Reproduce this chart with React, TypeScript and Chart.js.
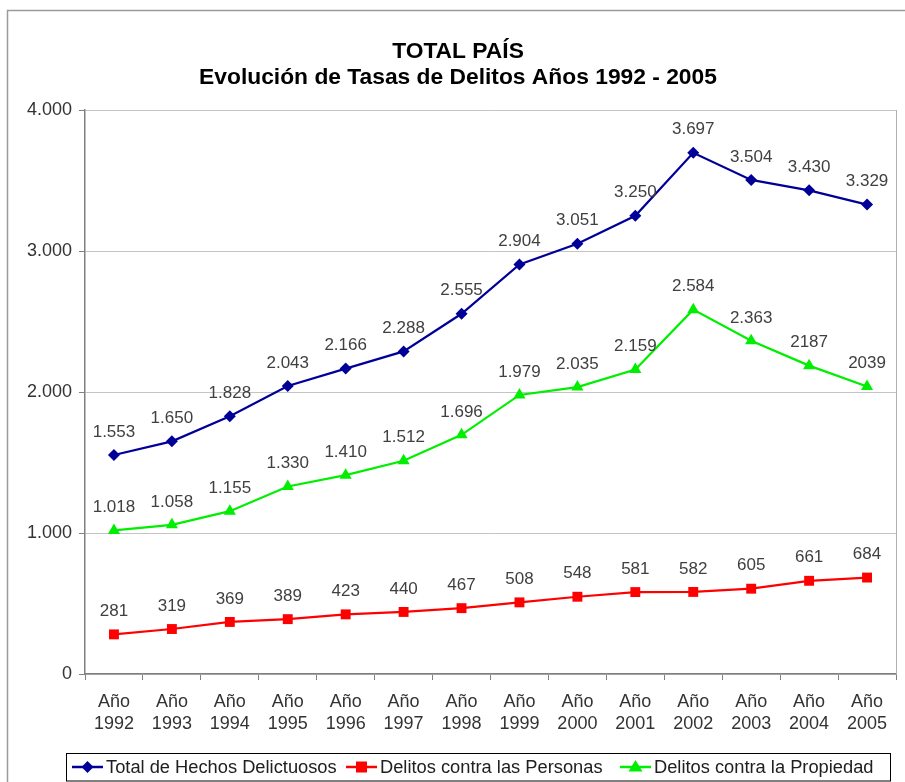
import React, { useEffect, useRef } from "react";
import { Chart, registerables } from "chart.js";

Chart.register(...registerables);

const years = ["1992","1993","1994","1995","1996","1997","1998","1999","2000","2001","2002","2003","2004","2005"];
const categories = years.map((y) => ["Año", y]);

const totalHechos = [1553,1650,1828,2043,2166,2288,2555,2904,3051,3250,3697,3504,3430,3329];
const totalLabels = ["1.553","1.650","1.828","2.043","2.166","2.288","2.555","2.904","3.051","3.250","3.697","3.504","3.430","3.329"];

const personas = [281,319,369,389,423,440,467,508,548,581,582,605,661,684];
const personasLabels = ["281","319","369","389","423","440","467","508","548","581","582","605","661","684"];

const propiedad = [1018,1058,1155,1330,1410,1512,1696,1979,2035,2159,2584,2363,2187,2039];
const propiedadLabels = ["1.018","1.058","1.155","1.330","1.410","1.512","1.696","1.979","2.035","2.159","2.584","2.363","2187","2039"];

const seriesNames = ["Total de Hechos Delictuosos", "Delitos contra las Personas", "Delitos contra la Propiedad"];
const seriesColors = ["#000099", "#ff0000", "#00ee00"];
const seriesLabels = [totalLabels, personasLabels, propiedadLabels];
const pointStyles = ["rectRot", "rect", "triangle"];

const titleLines = ["TOTAL PAÍS", "Evolución de Tasas de Delitos Años 1992 - 2005"];

const FONT = 'Arial, "Liberation Sans", sans-serif';

function drawMarker(ctx: CanvasRenderingContext2D, style: string, x: number, y: number, color: string) {
  ctx.save();
  ctx.fillStyle = color;
  ctx.beginPath();
  if (style === "rectRot") {
    const r = 6;
    ctx.moveTo(x, y - r);
    ctx.lineTo(x + r, y);
    ctx.lineTo(x, y + r);
    ctx.lineTo(x - r, y);
  } else if (style === "rect") {
    const r = 5.5;
    ctx.rect(x - r, y - r, 2 * r, 2 * r);
  } else {
    const r = 7;
    ctx.moveTo(x, y - r);
    ctx.lineTo(x + r, y + r * 0.65);
    ctx.lineTo(x - r, y + r * 0.65);
  }
  ctx.closePath();
  ctx.fill();
  ctx.restore();
}

const decorPlugin = {
  id: "decor",
  beforeDraw(chart: any) {
    const ctx = chart.ctx as CanvasRenderingContext2D;
    ctx.save();
    ctx.fillStyle = "#ffffff";
    ctx.fillRect(0, 0, chart.width, chart.height);
    // outer frame
    ctx.strokeStyle = "#9a9a9a";
    ctx.lineWidth = 1.5;
    ctx.beginPath();
    ctx.moveTo(7.5, chart.height + 5);
    ctx.lineTo(7.5, 10.5);
    ctx.lineTo(chart.width + 5, 10.5);
    ctx.stroke();
    ctx.restore();
  },
  afterDatasetsDraw(chart: any) {
    const ctx = chart.ctx as CanvasRenderingContext2D;
    const area = chart.chartArea;
    ctx.save();
    // right plot border
    ctx.strokeStyle = "#b0b0b0";
    ctx.lineWidth = 1;
    ctx.beginPath();
    ctx.moveTo(Math.round(area.right) + 0.5, area.top);
    ctx.lineTo(Math.round(area.right) + 0.5, area.bottom);
    ctx.stroke();

    // data labels
    ctx.fillStyle = "#404040";
    ctx.font = `17px ${FONT}`;
    ctx.textAlign = "center";
    ctx.textBaseline = "middle";
    chart.data.datasets.forEach((ds: any, i: number) => {
      const meta = chart.getDatasetMeta(i);
      meta.data.forEach((pt: any, j: number) => {
        ctx.fillText(seriesLabels[i][j], pt.x, pt.y - 23);
      });
    });

    // title
    ctx.fillStyle = "#000000";
    ctx.font = `bold 22.8px ${FONT}`;
    ctx.fillText(titleLines[0], 458, 52);
    ctx.fillText(titleLines[1], 458, 78);

    // legend
    const boxL = 66, boxT = 753.5, boxR = 890, boxB = 781;
    ctx.strokeStyle = "#000000";
    ctx.lineWidth = 1;
    ctx.strokeRect(boxL + 0.5, boxT, boxR - boxL, boxB - boxT);
    const starts = [72, 346, 620];
    ctx.font = `18.3px ${FONT}`;
    ctx.textAlign = "left";
    const ly = 767;
    starts.forEach((sx, i) => {
      ctx.strokeStyle = seriesColors[i];
      ctx.lineWidth = 2.5;
      ctx.beginPath();
      ctx.moveTo(sx, ly);
      ctx.lineTo(sx + 31, ly);
      ctx.stroke();
      drawMarker(ctx, pointStyles[i], sx + 15.5, ly, seriesColors[i]);
      ctx.fillStyle = "#202020";
      ctx.fillText(seriesNames[i], sx + 34, ly + 1);
    });
    ctx.restore();
  },
};

export default function App() {
  const ref = useRef<HTMLCanvasElement | null>(null);
  useEffect(() => {
    if (!ref.current) return;
    const mk = (data: number[], i: number) => ({
      label: seriesNames[i],
      data,
      borderColor: seriesColors[i],
      backgroundColor: seriesColors[i],
      borderWidth: 2.2,
      pointStyle: pointStyles[i] as any,
      pointRadius: i === 0 ? 6 : 7,
      pointBorderWidth: 0,
      pointBorderColor: seriesColors[i],
      pointBackgroundColor: seriesColors[i],
      tension: 0,
    });
    const chart = new Chart(ref.current, {
      type: "line",
      data: {
        labels: categories as any,
        datasets: [mk(totalHechos, 0), mk(personas, 1), mk(propiedad, 2)],
      },
      options: {
        responsive: false,
        animation: false,
        events: [],
        layout: { padding: { left: 0, right: 9, top: 110, bottom: 0 } },
        plugins: {
          legend: { display: false },
          title: { display: false },
          tooltip: { enabled: false },
        },
        scales: {
          x: {
            type: "category",
            offset: true,
            grid: {
              offset: true,
              drawOnChartArea: false,
              drawTicks: true,
              tickLength: 6,
              tickColor: "#808080",
            },
            border: { color: "#808080", width: 1.5 },
            ticks: {
              color: "#333333",
              font: { family: FONT, size: 18, lineHeight: 1.22 },
              padding: 11,
              maxRotation: 0,
              autoSkip: false,
            },
            afterFit: (s: any) => { s.height = 108; },
          },
          y: {
            min: 0,
            max: 4000,
            grid: {
              color: "#c4c4c4",
              lineWidth: 1,
              tickLength: 6,
              tickColor: "#808080",
            },
            border: { color: "#808080", width: 1.5 },
            ticks: {
              stepSize: 1000,
              color: "#333333",
              font: { family: FONT, size: 18 },
              padding: 7,
              callback: (v: any) => (Number(v) === 0 ? "0" : Number(v).toLocaleString("de-DE")),
            },
            afterFit: (s: any) => { s.width = 85; },
          },
        },
      },
      plugins: [decorPlugin],
    });
    return () => chart.destroy();
  }, []);
  return (
    <div style={{ position: "fixed", left: 0, top: 0, width: 905, height: 782, background: "#fff" }}>
      <canvas ref={ref} width={905} height={782} style={{ display: "block" }} />
    </div>
  );
}
